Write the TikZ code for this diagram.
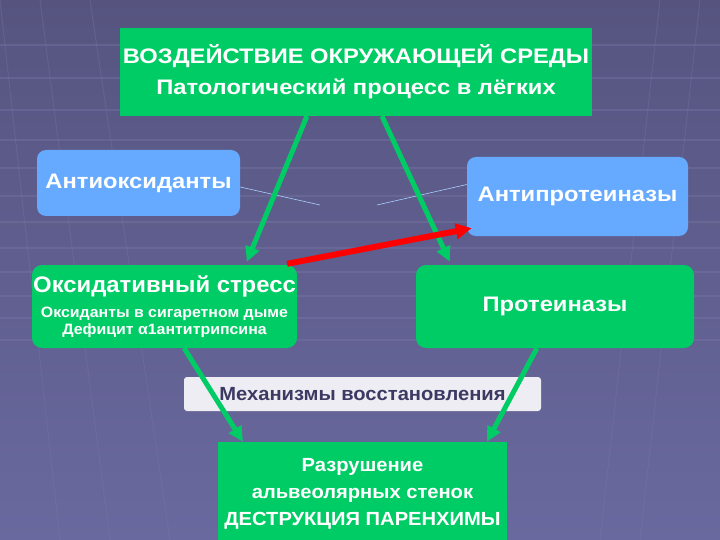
\documentclass[tikz,border=0pt]{standalone}
\usepackage{fontspec}
\setmainfont{Liberation Sans}
\newfontfamily\widesans{Liberation Sans}[FakeStretch=1.13]
\newfontfamily\slightsans{Liberation Sans}[FakeStretch=1.06]
\usetikzlibrary{arrows.meta,calc}
\definecolor{SlideTop}{HTML}{56547F}
\definecolor{SlideLow}{HTML}{6A699F}
\definecolor{GridLine}{HTML}{7C7AAA}
\definecolor{BoxGreen}{HTML}{00CC66}
\definecolor{BoxBlue}{HTML}{66AAFF}
\definecolor{PaleGrey}{HTML}{EDEDF3}
\definecolor{InkGrey}{HTML}{3C3A63}
\definecolor{ArrowRed}{HTML}{FF0000}
\definecolor{ThinBlue}{HTML}{A8D0FF}
\newcommand{\txtsize}[2]{\bfseries\fontsize{#1}{#2}\selectfont}
\tikzset{
  greenbox/.style={fill=BoxGreen,text=white,align=center,inner sep=0pt},
  bluebox/.style={fill=BoxBlue,text=white,align=center,inner sep=0pt,rounded corners=9pt},
  greyplate/.style={fill=PaleGrey,text=InkGrey,inner sep=0pt,rounded corners=3pt},
  greenarrow/.style={draw=BoxGreen,line width=5pt,-{Triangle[length=15pt,width=14pt]}},
  redarrow/.style={draw=ArrowRed,line width=6pt,-{Triangle[length=16pt,width=15pt]}},
  hairline/.style={draw=ThinBlue,line width=0.6pt}
}
\begin{document}
\begin{tikzpicture}[x=1pt,y=-1pt]
  % background
  \shade[top color=SlideTop,bottom color=SlideLow] (0,0) rectangle (720,540);
  \useasboundingbox (0,0) rectangle (720,540);
  \clip (0,0) rectangle (720,540);
  \foreach \yy in {45,78,110,140,168,196,222,248,272,296,318,340}
    \draw[GridLine,opacity=0.35,line width=1.2pt] (0,\yy) -- (720,\yy);
  \foreach \xa/\xb in {0/60,40/110,90/170,660/600,700/640}
    \draw[GridLine,opacity=0.3,line width=1pt] (\xa,0) -- (\xb,540);

  % boxes
  \node[greenbox,minimum width=472pt,minimum height=88pt,font=\widesans\txtsize{21}{31}] (env) at (356,72)
    {ВОЗДЕЙСТВИЕ ОКРУЖАЮЩЕЙ СРЕДЫ\\ Патологический процесс в лёгких};
  \node[bluebox,minimum width=203pt,minimum height=66pt,font=\widesans\txtsize{21}{25}] (antiox) at (138.5,183)
    {Антиоксиданты};
  \node[bluebox,minimum width=221pt,minimum height=79pt,font=\widesans\txtsize{21}{25}] (antiprot) at (577.5,196.5)
    {Антипротеиназы};
  \node[greenbox,rounded corners=10pt,minimum width=265pt,minimum height=83pt,font=\slightsans\txtsize{15}{17}] (oxstress) at (164.5,306.5)
    {\txtsize{22.5}{17}Оксидативный стресс\\[8pt]
     Оксиданты в сигаретном дыме\\ Дефицит α1антитрипсина};
  \node[greenbox,rounded corners=10pt,minimum width=278pt,minimum height=83pt,font=\widesans\txtsize{21}{25}] (prot) at (555,306.5)
    {Протеиназы};
  \node[greyplate,minimum width=357pt,minimum height=34pt,font=\slightsans\txtsize{19}{23}] (repair) at (362.5,394)
    {Механизмы восстановления};
  \node[greenbox,minimum width=289pt,minimum height=104pt,font=\slightsans\txtsize{19}{27}] (ruin) at (362.5,494)
    {Разрушение\\ альвеолярных стенок\\ ДЕСТРУКЦИЯ ПАРЕНХИМЫ};

  % thin lines
  \coordinate (midL) at (320,205);
  \coordinate (midR) at (377,205);
  \draw[hairline] ($(antiox.east)+(0,4)$) -- (midL);
  \draw[hairline] (midR) -- ($(antiprot.west)+(0,-12)$);

  % arrows
  \draw[greenarrow] ($(env.south west)!0.396!(env.south east)$) -- ($(oxstress.north west)!0.81!(oxstress.north east)+(0,-3)$);
  \draw[greenarrow] ($(env.south west)!0.555!(env.south east)$) -- ($(prot.north west)!0.122!(prot.north east)+(0,-3)$);
  \draw[greenarrow] ($(oxstress.south west)!0.574!(oxstress.south east)$) -- ($(ruin.north west)!0.087!(ruin.north east)$);
  \draw[greenarrow] ($(prot.south west)!0.435!(prot.south east)$) -- ($(ruin.north west)!0.93!(ruin.north east)$);
  \draw[redarrow] ($(oxstress.north west)!0.962!(oxstress.north east)+(0,-1)$) -- ($(antiprot.south west)+(5,-8)$);
\end{tikzpicture}
\end{document}
